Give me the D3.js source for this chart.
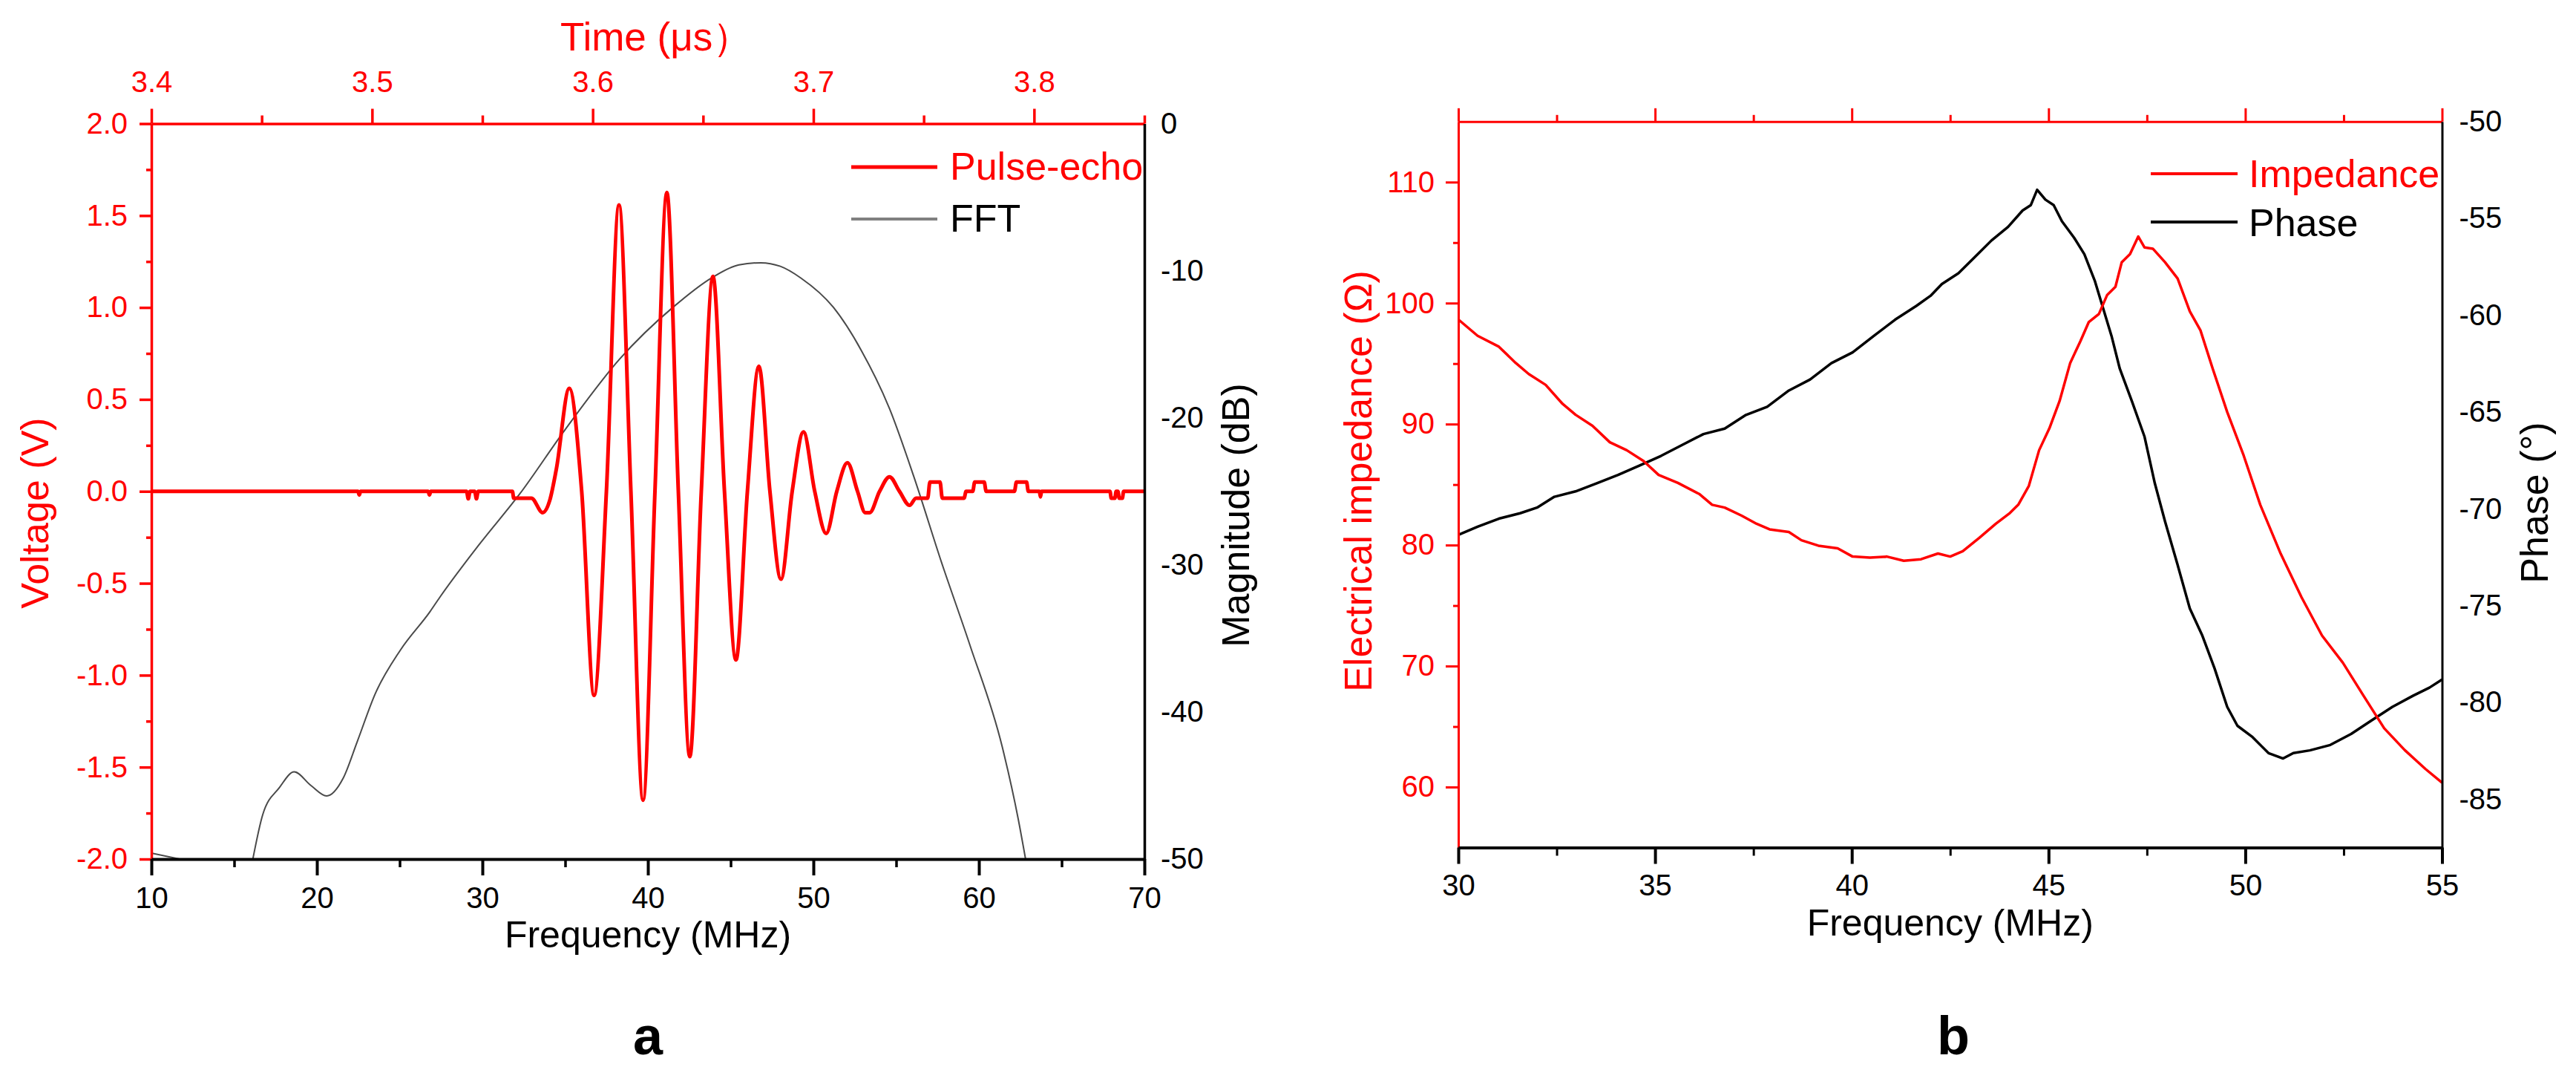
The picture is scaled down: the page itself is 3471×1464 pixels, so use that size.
<!DOCTYPE html>
<html><head><meta charset="utf-8">
<script src="https://cdn.jsdelivr.net/npm/d3@7"></script>
<style>html,body{margin:0;padding:0;background:#fff;}</style>
</head><body>
<script>
// ---------- DATA ----------
// Panel a: pulse-echo waveform [time (µs), voltage (V)]
const pulseEcho = [
 [3.400,0],[3.4936,0],[3.4942,-0.02],[3.4948,0],
 [3.5254,0],[3.5260,-0.02],[3.5266,0],
 [3.5428,0],[3.5436,-0.04],[3.5444,0],[3.5465,0],[3.5473,-0.04],[3.5481,0],
 [3.5636,0],[3.5642,-0.037],[3.5722,-0.037],[3.5773,-0.116],[3.5805,-0.05],[3.5835,0.12],
 [3.5894,0.56],[3.5950,0],[3.6006,-1.11],[3.6062,0],[3.6119,1.558],[3.6173,0],[3.6228,-1.68],
 [3.6282,0],[3.6336,1.625],[3.6388,0],[3.6440,-1.443],[3.6492,0],[3.6545,1.169],[3.6597,0],
 [3.6649,-0.917],[3.6701,0],[3.6753,0.68],[3.6803,0],[3.6853,-0.478],[3.6904,0],[3.6955,0.323],
 [3.7006,0],[3.7058,-0.229],[3.7106,0],[3.7154,0.155],[3.7200,0],[3.7235,-0.116],[3.7255,-0.116],
 [3.7300,0],[3.7345,0.079],[3.7390,0],[3.7436,-0.076],
 [3.7465,-0.037],[3.7518,-0.037],[3.7528,0.05],[3.7574,0.05],[3.7584,-0.037],[3.7683,-0.037],
 [3.7692,0],[3.7722,0],[3.7731,0.05],[3.7774,0.05],[3.7783,0],[3.7911,0],[3.7920,0.05],
 [3.7966,0.05],[3.7974,0],[3.8024,0],[3.8029,-0.03],[3.8034,0],
 [3.8344,0],[3.8350,-0.037],[3.8366,-0.037],[3.8372,0],[3.8380,0],[3.8386,-0.037],
 [3.8400,-0.037],[3.8406,0],[3.8500,0]
];
// Panel a: FFT magnitude [frequency (MHz), dB]; null = below axis (gap)
const fftSpectrum = [
 [10,-49.6],[11.7,-50],[12,null],
 [16.13,-50],[16.73,-46.97],[17.73,-45.15],[18.63,-44.07],[19.63,-44.99],[20.59,-45.71],
 [21.59,-44.5],[22.43,-42.04],[23.53,-38.75],[25.04,-35.8],[26.84,-33.17],[27.44,-32.18],
 [29.84,-28.57],[32.24,-25.2],[35.0,-20.8],[38.3,-16.0],[41.5,-12.5],[43.9,-10.45],
 [45.5,-9.6],[46.82,-9.46],[48.0,-9.7],[49.26,-10.51],[51.2,-12.48],[52.9,-15.43],
 [54.6,-19.38],[56.06,-23.97],[57.76,-29.89],[59.46,-35.46],[61.41,-42.37],[62.38,-47.3],[62.82,-50]
];
// Panel b: impedance [MHz, ohm]
const impedance = [
 [30.0,98.65],[30.49,97.3],[31.03,96.4],[31.46,95.05],[31.79,94.14],[32.22,93.24],[32.65,91.67],
 [32.98,90.77],[33.41,89.86],[33.85,88.5],[34.28,87.84],[34.71,86.94],[35.09,85.8],[35.58,85.14],
 [36.12,84.23],[36.45,83.33],[36.77,83.1],[37.2,82.43],[37.58,81.76],[37.91,81.3],[38.4,81.08],
 [38.72,80.4],[39.15,79.95],[39.64,79.73],[40.02,79.05],[40.46,78.96],[40.89,79.05],[41.32,78.7],
 [41.76,78.83],[42.19,79.3],[42.5,79.05],[42.82,79.5],[43.24,80.6],[43.66,81.76],[44.02,82.66],
 [44.23,83.33],[44.5,84.9],[44.76,87.84],[45.02,89.64],[45.28,91.9],[45.55,95.05],[45.81,96.85],
 [46.02,98.42],[46.28,99.1],[46.49,100.68],[46.7,101.35],[46.86,103.38],[47.07,104.05],[47.28,105.5],
 [47.44,104.6],[47.65,104.5],[47.96,103.38],[48.28,102.03],[48.59,99.32],[48.86,97.75],[49.17,94.6],
 [49.54,91.0],[49.96,87.39],[50.38,83.33],[50.9,79.28],[51.43,75.68],[51.95,72.52],[52.48,70.27],
 [53.0,67.57],[53.53,64.86],[54.05,63.06],[54.58,61.49],[55.0,60.36]
];
// Panel b: phase [MHz, degrees]
const phase = [
 [30,-71.35],[30.49,-70.93],[31.03,-70.51],[31.57,-70.23],[32.0,-69.94],[32.44,-69.38],[32.98,-69.1],
 [33.52,-68.68],[34.06,-68.25],[34.6,-67.77],[35.15,-67.27],[35.69,-66.7],[36.23,-66.14],[36.77,-65.86],
 [37.31,-65.15],[37.85,-64.73],[38.4,-63.89],[38.94,-63.32],[39.48,-62.48],[40.02,-61.92],[40.56,-61.07],
 [41.1,-60.23],[41.64,-59.52],[42.0,-59.0],[42.29,-58.39],[42.71,-57.83],[43.13,-56.99],[43.55,-56.14],
 [43.97,-55.44],[44.34,-54.59],[44.55,-54.31],[44.71,-53.52],[44.92,-54.03],[45.13,-54.31],[45.34,-55.15],
 [45.65,-56.0],[45.91,-56.85],[46.18,-58.25],[46.39,-59.66],[46.6,-61.07],[46.81,-62.76],[47.12,-64.45],
 [47.44,-66.28],[47.7,-68.68],[47.96,-70.65],[48.28,-72.9],[48.59,-75.15],[48.91,-76.56],[49.22,-78.25],
 [49.54,-80.23],[49.8,-81.21],[50.17,-81.77],[50.59,-82.62],[50.96,-82.9],[51.22,-82.62],[51.64,-82.48],
 [52.16,-82.2],[52.69,-81.63],[53.21,-80.93],[53.74,-80.23],[54.26,-79.66],[54.68,-79.24],[55.0,-78.82]
];
// Tick values
const aFreqTicks = [10,20,30,40,50,60,70];
const aFreqMinor = [15,25,35,45,55,65];
const aTimeTicks = [3.4,3.5,3.6,3.7,3.8];
const aTimeMinor = [3.45,3.55,3.65,3.75,3.85];
const aVoltTicks = [-2,-1.5,-1,-0.5,0,0.5,1,1.5,2];
const aVoltMinor = [-1.75,-1.25,-0.75,-0.25,0.25,0.75,1.25,1.75];
const aDbTicks = [0,-10,-20,-30,-40,-50];
const bFreqTicks = [30,35,40,45,50,55];
const bFreqMinor = [32.5,37.5,42.5,47.5,52.5];
const bZTicks = [60,70,80,90,100,110];
const bZMinor = [65,75,85,95,105];
const bPhaseTicks = [-85,-80,-75,-70,-65,-60,-55,-50];

// ---------- DRAW ----------
const W = 3471, H = 1464;
const FONT = "'Liberation Sans', Arial, sans-serif";
const RED = "#ff0000";
const svg = d3.select("body").append("svg").attr("width", W).attr("height", H)
  .style("background", "#fff");
svg.append("rect").attr("width", W).attr("height", H).attr("fill", "#fff");

function styleAxis(g, color, sw, fs) {
  g.select(".domain").attr("stroke", color).attr("stroke-width", sw);
  g.selectAll(".tick line").attr("stroke", color).attr("stroke-width", sw);
  g.selectAll(".tick text").attr("fill", color).attr("font-size", fs).attr("font-family", FONT);
  return g;
}
function minor(gen, color, sw) {
  const g = svg.append("g").call(gen);
  g.select(".domain").remove();
  g.selectAll(".tick line").attr("stroke", color).attr("stroke-width", sw);
  g.selectAll(".tick text").remove();
  return g;
}
function label(txt, x, y, opts) {
  const t = svg.append("text").text(txt).attr("font-family", FONT)
    .attr("font-size", opts.fs).attr("fill", opts.color || "#000")
    .attr("text-anchor", opts.anchor || "middle");
  if (opts.bold) t.attr("font-weight", "bold");
  if (opts.rot) t.attr("transform", `translate(${x},${y}) rotate(-90)`);
  else t.attr("x", x).attr("y", y);
  return t;
}

// ===== Panel a =====
const ax = {L:204, R:1542, T:166.5, B:1157};
const xFa = d3.scaleLinear([10,70],[ax.L,ax.R]);
const xTa = d3.scaleLinear([3.4,3.85],[ax.L,ax.R]);
const yV = d3.scaleLinear([-2,2],[ax.B,ax.T]);
const yDb = d3.scaleLinear([-50,0],[ax.B,ax.T]);

svg.append("clipPath").attr("id","clipA").append("rect")
  .attr("x",ax.L).attr("y",ax.T).attr("width",ax.R-ax.L).attr("height",ax.B-ax.T);

// FFT curve
svg.append("path").datum(fftSpectrum)
  .attr("clip-path","url(#clipA)")
  .attr("fill","none").attr("stroke","#4a4a4a").attr("stroke-width",2)
  .attr("d", d3.line().defined(d=>d[1]!==null).x(d=>xFa(d[0])).y(d=>yDb(d[1])).curve(d3.curveMonotoneX));
// Pulse echo
svg.append("path").datum(pulseEcho)
  .attr("clip-path","url(#clipA)")
  .attr("fill","none").attr("stroke",RED).attr("stroke-width",5).attr("stroke-linejoin","round")
  .attr("d", d3.line().x(d=>xTa(d[0])).y(d=>yV(d[1])).curve(d3.curveMonotoneX));

// axes a
styleAxis(svg.append("g").attr("transform",`translate(${ax.L},0)`)
  .call(d3.axisLeft(yV).tickValues(aVoltTicks).tickSize(16).tickSizeOuter(0).tickPadding(16).tickFormat(d=>d.toFixed(1))), RED, 3.5, 40);
minor(d3.axisLeft(yV).tickValues(aVoltMinor).tickSize(7), RED, 3.5).attr("transform",`translate(${ax.L},0)`);

styleAxis(svg.append("g").attr("transform",`translate(0,${ax.T})`)
  .call(d3.axisTop(xTa).tickValues(aTimeTicks).tickSize(20).tickSizeOuter(0).tickPadding(23).tickFormat(d=>d.toFixed(1))), RED, 3.5, 40);
minor(d3.axisTop(xTa).tickValues(aTimeMinor).tickSize(11), RED, 3.5).attr("transform",`translate(0,${ax.T})`);

styleAxis(svg.append("g").attr("transform",`translate(${ax.R},0)`)
  .call(d3.axisRight(yDb).tickValues(aDbTicks).tickSize(0).tickSizeOuter(0).tickPadding(22).tickFormat(d=>String(d))), "#000", 3.5, 40);

styleAxis(svg.append("g").attr("transform",`translate(0,${ax.B})`)
  .call(d3.axisBottom(xFa).tickValues(aFreqTicks).tickSize(22).tickSizeOuter(0).tickPadding(16).tickFormat(d=>String(d))), "#000", 4, 40);
minor(d3.axisBottom(xFa).tickValues(aFreqMinor).tickSize(11), "#000", 3.5).attr("transform",`translate(0,${ax.B})`);

label("Time (\u03bcs\uff09", 755, 68, {fs:53, color:RED, anchor:"start"});
label("Frequency (MHz)", (ax.L+ax.R)/2, 1276, {fs:50});
label("Voltage (V)", 65, 691, {fs:52, color:RED, rot:true});
label("Magnitude (dB)", 1683, 694, {fs:52, rot:true});
label("a", (ax.L+ax.R)/2, 1420, {fs:72, bold:true});

// legend a
svg.append("line").attr("x1",1147).attr("x2",1263).attr("y1",225).attr("y2",225)
  .attr("stroke",RED).attr("stroke-width",5);
label("Pulse-echo", 1280, 242, {fs:52, color:RED, anchor:"start"});
svg.append("line").attr("x1",1147).attr("x2",1263).attr("y1",295).attr("y2",295)
  .attr("stroke","#808080").attr("stroke-width",4);
label("FFT", 1280, 312, {fs:52, anchor:"start"});

// ===== Panel b =====
const bx = {L:1965, R:3290.5, T:163.8, B:1141.5};
const xFb = d3.scaleLinear([30,55],[bx.L,bx.R]);
const yZ = d3.scaleLinear([55,115],[bx.B,bx.T]);
const yP = d3.scaleLinear([-87.5,-50],[bx.B,bx.T]);

svg.append("clipPath").attr("id","clipB").append("rect")
  .attr("x",bx.L).attr("y",bx.T).attr("width",bx.R-bx.L).attr("height",bx.B-bx.T);

svg.append("path").datum(phase).attr("clip-path","url(#clipB)")
  .attr("fill","none").attr("stroke","#000").attr("stroke-width",3.5).attr("stroke-linejoin","round")
  .attr("d", d3.line().x(d=>xFb(d[0])).y(d=>yP(d[1])));
svg.append("path").datum(impedance).attr("clip-path","url(#clipB)")
  .attr("fill","none").attr("stroke",RED).attr("stroke-width",3.5).attr("stroke-linejoin","round")
  .attr("d", d3.line().x(d=>xFb(d[0])).y(d=>yZ(d[1])));

styleAxis(svg.append("g").attr("transform",`translate(${bx.L},0)`)
  .call(d3.axisLeft(yZ).tickValues(bZTicks).tickSize(17).tickSizeOuter(0).tickPadding(15).tickFormat(d=>String(d))), RED, 3, 40);
minor(d3.axisLeft(yZ).tickValues(bZMinor).tickSize(7), RED, 3).attr("transform",`translate(${bx.L},0)`);

styleAxis(svg.append("g").attr("transform",`translate(0,${bx.T})`)
  .call(d3.axisTop(xFb).tickValues(bFreqTicks).tickSize(18).tickSizeOuter(0).tickFormat("")), RED, 3, 40);
minor(d3.axisTop(xFb).tickValues(bFreqMinor).tickSize(9), RED, 3).attr("transform",`translate(0,${bx.T})`);

styleAxis(svg.append("g").attr("transform",`translate(${bx.R},0)`)
  .call(d3.axisRight(yP).tickValues(bPhaseTicks).tickSize(0).tickSizeOuter(0).tickPadding(23).tickFormat(d=>String(d))), "#000", 3, 40);

styleAxis(svg.append("g").attr("transform",`translate(0,${bx.B})`)
  .call(d3.axisBottom(xFb).tickValues(bFreqTicks).tickSize(22).tickSizeOuter(0).tickPadding(14).tickFormat(d=>String(d))), "#000", 4, 40);
minor(d3.axisBottom(xFb).tickValues(bFreqMinor).tickSize(11), "#000", 3).attr("transform",`translate(0,${bx.B})`);

label("Frequency (MHz)", (bx.L+bx.R)/2, 1260, {fs:50});
label("Electrical impedance (\u03a9)", 1848, 648, {fs:52, color:RED, rot:true});
label("Phase (\u00b0)", 3433, 677, {fs:52, rot:true});
label("b", 2632, 1420, {fs:72, bold:true});

// legend b
svg.append("line").attr("x1",2898).attr("x2",3015).attr("y1",234).attr("y2",234)
  .attr("stroke",RED).attr("stroke-width",4);
label("Impedance", 3030, 252, {fs:52, color:RED, anchor:"start"});
svg.append("line").attr("x1",2898).attr("x2",3015).attr("y1",299).attr("y2",299)
  .attr("stroke","#000").attr("stroke-width",4);
label("Phase", 3030, 318, {fs:52, anchor:"start"});
</script>
</body></html>
